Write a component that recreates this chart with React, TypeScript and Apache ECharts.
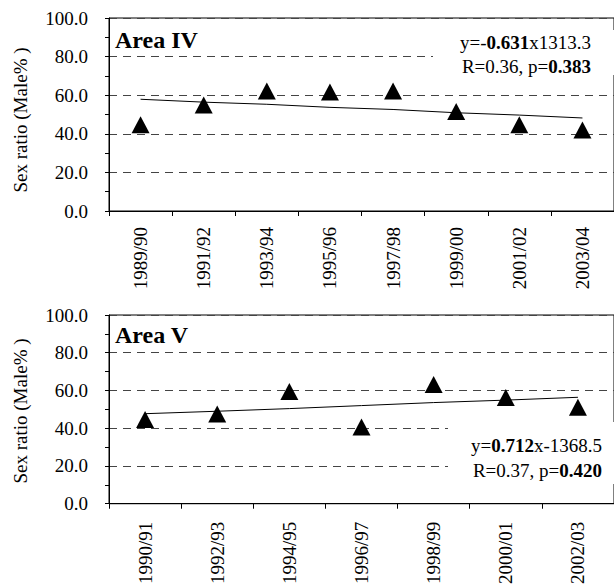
import React, { useEffect, useRef } from 'react';
import * as echarts from 'echarts';

const seasonsIV = ['1989/90', '1991/92', '1993/94', '1995/96', '1997/98', '1999/00', '2001/02', '2003/04'];
const ratioIV = [44.7, 54.9, 62.2, 61.6, 62.2, 51.6, 44.7, 42.0];
const trendIV = [57.9, 56.4, 55.3, 53.7, 52.6, 50.9, 49.7, 48.2];

const seasonsV = ['1990/91', '1992/93', '1994/95', '1996/97', '1998/99', '2000/01', '2002/03'];
const ratioV = [44.6, 47.6, 59.5, 40.6, 63.2, 56.3, 51.1];
const trendV = [47.7, 49.0, 50.4, 52.0, 53.6, 54.9, 56.4];

const yMin = 0;
const yMax = 100;
const yStep = 20;

const yName = 'Sex ratio (Male% )';
const titleIV = 'Area IV';
const titleV = 'Area V';

const FONT = 'Liberation Serif';
const FS = 19;

export default function App() {
  const ref = useRef<HTMLDivElement>(null);

  useEffect(() => {
    if (!ref.current) return;
    const chart = echarts.init(ref.current, undefined, { renderer: 'svg' });

    const makeX = (gridIndex: number, data: string[], margin: number) => ({
      type: 'category',
      gridIndex,
      data,
      boundaryGap: true,
      axisLine: { show: true, lineStyle: { color: '#000', width: 1 } },
      axisTick: { show: true, length: 5, alignWithLabel: false, lineStyle: { color: '#000' } },
      axisLabel: {
        interval: 0,
        rotate: 90,
        margin,
        color: '#000',
        fontFamily: FONT,
        fontSize: FS,
      },
      splitLine: { show: false },
    });

    const makeY = (gridIndex: number) => ({
      type: 'value',
      gridIndex,
      min: yMin,
      max: yMax,
      interval: yStep,
      axisLine: { show: true, lineStyle: { color: '#000', width: 1 } },
      axisTick: { show: true, length: 4, lineStyle: { color: '#000' } },
      minorTick: { show: true, splitNumber: 2, length: 4, lineStyle: { color: '#000' } },
      minorSplitLine: { show: false },
      axisLabel: {
        margin: 21,
        color: '#000',
        fontFamily: FONT,
        fontSize: FS,
        formatter: (v: number) => v.toFixed(1),
      },
      splitLine: {
        show: true,
        lineStyle: { color: '#444', width: 1, type: [8, 6] },
      },
    });

    const base = { fill: '#000', fontFamily: FONT, fontSize: FS };
    const rich = { n: { ...base }, b: { ...base, fontWeight: 'bold' } };

    const option: any = {
      animation: false,
      backgroundColor: '#fff',
      textStyle: { fontFamily: FONT },
      grid: [
        { left: 109, top: 18, width: 514, height: 193, show: true, borderColor: '#000', borderWidth: 1, backgroundColor: 'transparent' },
        { left: 109, top: 315, width: 513, height: 193, show: true, borderColor: '#000', borderWidth: 1, backgroundColor: 'transparent' },
      ],
      xAxis: [makeX(0, seasonsIV, 16), makeX(1, seasonsV, 18)],
      yAxis: [makeY(0), makeY(1)],
      series: [
        { type: 'line', xAxisIndex: 0, yAxisIndex: 0, data: trendIV, showSymbol: false, symbol: 'none', lineStyle: { color: '#000', width: 1 }, z: 2 },
        { type: 'scatter', xAxisIndex: 0, yAxisIndex: 0, data: ratioIV, symbol: 'triangle', symbolSize: [18, 17], itemStyle: { color: '#000', opacity: 1 }, z: 3 },
        { type: 'line', xAxisIndex: 1, yAxisIndex: 1, data: trendV, showSymbol: false, symbol: 'none', lineStyle: { color: '#000', width: 1 }, z: 2 },
        { type: 'scatter', xAxisIndex: 1, yAxisIndex: 1, data: ratioV, symbol: 'triangle', symbolSize: [18, 17], itemStyle: { color: '#000', opacity: 1 }, z: 3 },
      ],
      graphic: [
        { type: 'rect', z: 100, shape: { x: 433, y: 30, width: 200, height: 45 }, style: { fill: '#fff' } },
        { type: 'rect', z: 100, shape: { x: 448, y: 422, width: 200, height: 62 }, style: { fill: '#fff' } },
        { type: 'text', z: 101, x: 115, y: 40, style: { text: titleIV, fill: '#000', fontFamily: FONT, fontSize: 24, fontWeight: 'bold', verticalAlign: 'middle', align: 'left' } },
        { type: 'text', z: 101, x: 115, y: 335, style: { text: titleV, fill: '#000', fontFamily: FONT, fontSize: 24, fontWeight: 'bold', verticalAlign: 'middle', align: 'left' } },
        { type: 'text', z: 101, x: 20.5, y: 120, rotation: Math.PI / 2, style: { ...base, text: yName, align: 'center', verticalAlign: 'middle' } },
        { type: 'text', z: 101, x: 20.5, y: 411, rotation: Math.PI / 2, style: { ...base, text: yName, align: 'center', verticalAlign: 'middle' } },
        { type: 'text', z: 101, x: 591, y: 42, style: { ...base, align: 'right', verticalAlign: 'middle', text: '{n|y=-}{b|0.631}{n|x1313.3}', rich } },
        { type: 'text', z: 101, x: 591, y: 66, style: { ...base, align: 'right', verticalAlign: 'middle', text: '{n|R=0.36, p=}{b|0.383}', rich } },
        { type: 'text', z: 101, x: 602, y: 445, style: { ...base, align: 'right', verticalAlign: 'middle', text: '{n|y=}{b|0.712}{n|x-1368.5}', rich } },
        { type: 'text', z: 101, x: 602, y: 470, style: { ...base, align: 'right', verticalAlign: 'middle', text: '{n|R=0.37, p=}{b|0.420}', rich } },
      ],
    };

    chart.setOption(option);
    return () => chart.dispose();
  }, []);

  return (
    <div
      ref={ref}
      style={{ position: 'absolute', left: 0, top: 0, width: 614, height: 587, overflow: 'hidden' }}
    />
  );
}
